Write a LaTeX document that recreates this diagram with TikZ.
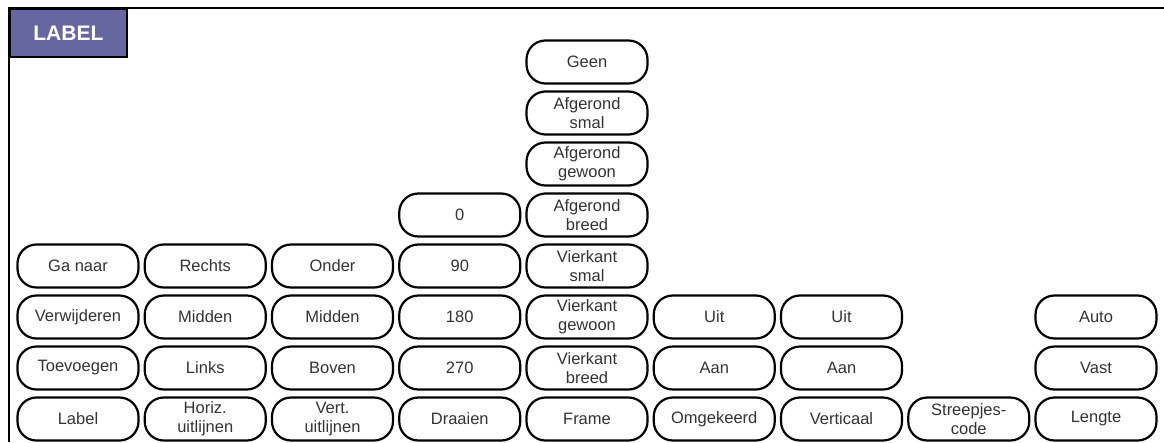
\documentclass[tikz,border=0pt]{standalone}
\usepackage{fontspec}
\setmainfont{Liberation Sans}
\usetikzlibrary{positioning}
\definecolor{tabblue}{RGB}{102,102,160}
\tikzstyle{key}=[draw,line width=2.2pt,rounded corners=19pt,minimum width=121pt,minimum height=43pt,inner sep=0pt,align=center,font=\fontsize{16.5}{19}\selectfont,text=black!80]
\tikzstyle{tab}=[draw,line width=1.8pt,fill=tabblue,minimum width=117pt,minimum height=48pt,inner sep=0pt,anchor=north west,text=white,font=\fontsize{21}{24}\selectfont\bfseries]

\begin{document}
\begin{tikzpicture}[x=1pt,y=-1pt]
  \useasboundingbox (0,0) rectangle (1164,442);
  % outer frame
  \coordinate (fbl) at (9,442);
  \coordinate (ftl) at (9,8);
  \coordinate (ftr) at (1164,8);
  \draw[line width=2.8pt] (fbl) -- (ftl) -- (ftr);
  \node[tab] (title) at (ftl) {LABEL};
  % columns, bottom row first
  \foreach \txt [count=\r from 0] in {Label,Toevoegen,Verwijderen,Ga naar}
    \node[key] (a\r) at (78,{419-51*\r}) {\txt};
  \foreach \txt [count=\r from 0] in {{Horiz.\\uitlijnen},Links,Midden,Rechts}
    \node[key] (b\r) at (205.25,{419-51*\r}) {\txt};
  \foreach \txt [count=\r from 0] in {{Vert.\\uitlijnen},Boven,Midden,Onder}
    \node[key] (c\r) at (332.5,{419-51*\r}) {\txt};
  \foreach \txt [count=\r from 0] in {Draaien,270,180,90,0}
    \node[key] (d\r) at (459.75,{419-51*\r}) {\txt};
  \foreach \txt [count=\r from 0] in {Frame,{Vierkant\\breed},{Vierkant\\gewoon},{Vierkant\\smal},{Afgerond\\breed},{Afgerond\\gewoon},{Afgerond\\smal},Geen}
    \node[key] (e\r) at (587,{419-51*\r}) {\txt};
  \foreach \txt [count=\r from 0] in {Omgekeerd,Aan,Uit}
    \node[key] (f\r) at (714.25,{419-51*\r}) {\txt};
  \foreach \txt [count=\r from 0] in {Verticaal,Aan,Uit}
    \node[key] (g\r) at (841.5,{419-51*\r}) {\txt};
  \node[key] (h0) at (968.75,419) {Streepjes-\\code};
  \foreach \txt [count=\r from 0] in {Lengte,Vast,Auto}
    \node[key] (i\r) at (1096,{419-51*\r}) {\txt};
\end{tikzpicture}
\end{document}
